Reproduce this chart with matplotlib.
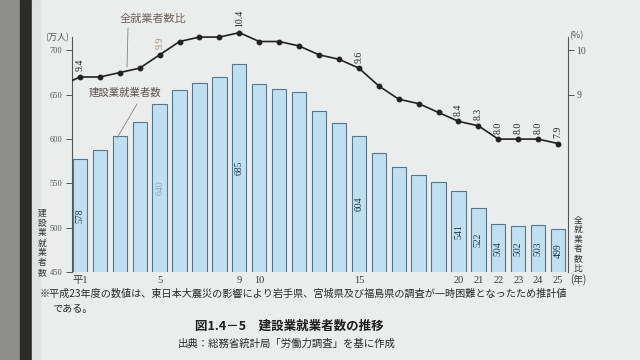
import matplotlib.pyplot as plt
from matplotlib.patches import Rectangle

plt.rcParams['font.family'] = ['Noto Sans CJK JP', 'DejaVu Sans']

# 平成1年〜25年
years = list(range(1, 26))
workers = [578, 588, 604, 619, 640, 655, 663, 670, 685, 662, 657, 653, 632,
           618, 604, 584, 568, 559, 552, 541, 522, 504, 502, 503, 499]
ratio = [9.4, 9.4, 9.5, 9.6, 9.9, 10.2, 10.3, 10.3, 10.4, 10.2, 10.2, 10.1, 9.9,
         9.8, 9.6, 9.2, 8.9, 8.8, 8.6, 8.4, 8.3, 8.0, 8.0, 8.0, 7.9]
prev_ratio = 9.2  # 昭和63年 (left of the axis)

bar_labelled = [1, 5, 9, 15, 20, 21, 22, 23, 24, 25]
ratio_labelled = [1, 5, 9, 15, 20, 21, 22, 23, 24, 25]
xtick_years = [1, 5, 9, 10, 15, 20, 21, 22, 23, 24, 25]

W, H = 640, 360
def px(x, y):
    return x / W, 1 - y / H

serif = ['Liberation Serif', 'Noto Sans CJK JP']
ink = '#3a3a3a'

fig = plt.figure(figsize=(6.4, 3.6), dpi=100)
fig.patch.set_facecolor('#eaedec')
# book edge on the left
fig.add_artist(Rectangle((0, 0), 20 / W, 1, transform=fig.transFigure, color='#8e8f8c', zorder=0))
fig.add_artist(Rectangle((20 / W, 0), 12 / W, 1, transform=fig.transFigure, color='#2b2b2a', zorder=0))
fig.add_artist(Rectangle((32 / W, 0), 8 / W, 1, transform=fig.transFigure, color='#dfe2e1', zorder=0))

ax = fig.add_axes([0.1125, 0.244, 0.775, 0.653])
ax.patch.set_alpha(0)
x = [y - 1 for y in years]
ax.bar(x, workers, width=0.72, bottom=0, color='#c0e0f2', edgecolor='#5a7488', linewidth=0.8, zorder=2)
ax.set_xlim(-0.4, 24.5)
ax.set_ylim(450, 715)
ax.set_yticks([450, 500, 550, 600, 650, 700])
ax.tick_params(axis='y', direction='out', length=4, width=0.7, colors='#555', labelsize=6, pad=3)
for t in ax.get_yticklabels():
    t.set_family(serif)
    t.set_color('#555')
ax.set_xticks([y - 1 for y in xtick_years])
ax.set_xticklabels(['平1'] + [str(y) for y in xtick_years[1:]], family=serif, fontsize=7.5, color=ink)
ax.tick_params(axis='x', length=0, pad=3)
for s in ['top', 'bottom']:
    ax.spines[s].set_visible(False)
ax.spines['left'].set_color('#555')
ax.spines['left'].set_linewidth(0.8)
ax.spines['right'].set_visible(False)

for y in bar_labelled:
    v = workers[y - 1]
    col = '#8fa6b6' if y == 5 else '#1d3550'
    ax.text(y - 1, 450 + (v - 450) * 0.5, str(v), rotation=90, ha='center', va='center',
            fontsize=7, family=serif, color=col, zorder=3)

ax2 = ax.twinx()
ax2.patch.set_alpha(0)
ax2.set_ylim(5, 10.3)
ax2.set_yticks([9, 10])
ax2.tick_params(axis='y', direction='out', length=4, width=0.7, colors='#555', labelsize=7, pad=2)
for t in ax2.get_yticklabels():
    t.set_family(serif)
for s in ['top', 'bottom', 'left']:
    ax2.spines[s].set_visible(False)
ax2.spines['right'].set_color('#555')
ax2.spines['right'].set_linewidth(0.8)

ax2.plot([-1, 0], [prev_ratio, ratio[0]], color='#222', lw=1.2, zorder=4)
ax2.plot(x, ratio, color='#222', lw=1.2, marker='o', ms=3.2, clip_on=False, zorder=4)
for y in ratio_labelled:
    v = ratio[y - 1]
    col = '#a08a70' if y == 5 else '#222'
    ax2.annotate(f'{v:.1f}', (y - 1, v), xytext=(0, 4), textcoords='offset points',
                 rotation=90, ha='center', va='bottom', fontsize=7, family=serif,
                 color=col, annotation_clip=False)

# series call-outs
fig.text(*px(153, 19), '全就業者数比', fontsize=8, color='#6f625c', ha='center', va='center')
fig.add_artist(plt.Line2D([128 / W, 127 / W], [1 - 28 / H, 1 - 67 / H], color='#8a7f78', lw=0.6))
fig.text(*px(125, 93), '建設業就業者数', fontsize=7.5, color='#5e524e', ha='center', va='center')
fig.add_artist(plt.Line2D([137 / W, 117 / W], [1 - 104 / H, 1 - 138 / H], color='#8a7f78', lw=0.6))

# axis captions (vertical, one character per line)
fig.text(*px(57, 38), '(万人)', fontsize=6.5, color='#555', ha='center', va='center')
fig.text(*px(576, 36), '(%)', fontsize=6.5, color='#555', ha='center', va='center')
for i, ch in enumerate('建設業就業者数'):
    fig.text(*px(42, 213 + i * 10), ch, fontsize=6.3, color=ink, ha='center', va='center')
for i, ch in enumerate('全就業者数比'):
    fig.text(*px(578, 220 + i * 9.6), ch, fontsize=6.3, color=ink, ha='center', va='center')
fig.text(*px(578, 280), '(年)', fontsize=7, color=ink, ha='center', va='center')

# notes and caption
fig.text(*px(40, 294), '※平成23年度の数値は、東日本大震災の影響により岩手県、宮城県及び福島県の調査が一時困難となったため推計値',
         fontsize=7.3, color='#2a2a2a', ha='left', va='center')
fig.text(*px(52, 309), 'である。', fontsize=7.3, color='#2a2a2a', ha='left', va='center')
fig.text(*px(195, 326), '図1.4－5　建設業就業者数の推移', fontsize=9, fontweight='bold', color='#1e1e1e', ha='left', va='center')
fig.text(*px(178, 344), '出典：総務省統計局「労働力調査」を基に作成', fontsize=7.5, color='#2a2a2a', ha='left', va='center')

fig.savefig('out.png', dpi=100, facecolor=fig.get_facecolor())
